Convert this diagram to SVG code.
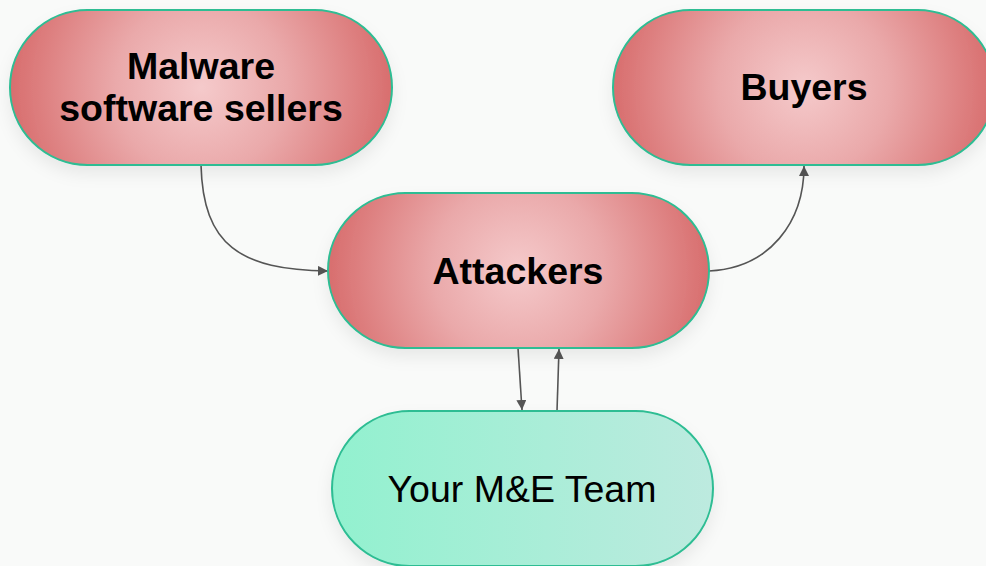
<svg xmlns="http://www.w3.org/2000/svg" width="986" height="566" viewBox="0 0 986 566">
<defs>
<radialGradient id="redG" cx="0.5" cy="0.5" r="0.5" gradientTransform="translate(0 0.5) scale(1 2.465) translate(0 -0.5)">
<stop offset="0" stop-color="#f5cacb"/>
<stop offset="0.45" stop-color="#eaa9aa"/>
<stop offset="1" stop-color="#d86e6e"/>
</radialGradient>
<linearGradient id="greenG" x1="0" y1="0" x2="1" y2="0">
<stop offset="0" stop-color="#92f1cf"/>
<stop offset="1" stop-color="#bdeadf"/>
</linearGradient>
<filter id="shadow" x="-10%" y="-10%" width="120%" height="140%">
<feDropShadow dx="0" dy="8" stdDeviation="8" flood-color="#000" flood-opacity="0.07"/>
</filter>
<marker id="arr" viewBox="0 0 10 10" refX="10" refY="5" markerWidth="10" markerHeight="10" markerUnits="userSpaceOnUse" orient="auto">
<path d="M0,0 L10,5 L0,10 z" fill="#555"/>
</marker>
<style>
.node{stroke:#2dbd93;stroke-width:2;filter:url(#shadow)}
.red{fill:url(#redG)}
.green{fill:url(#greenG)}
.lbl{font-family:"Liberation Sans",Arial,sans-serif;font-size:37.5px;fill:#000;text-anchor:middle}
.b{font-weight:bold}
.edge{fill:none;stroke:#555;stroke-width:1.6;marker-end:url(#arr)}
</style>
</defs>
<rect width="986" height="566" fill="#f9faf9"/>
<g id="connectors">
<path class="edge" d="M201,165 C203,245 240,270 328,271"/>
<path class="edge" d="M709,271 C770,268 804,222 804,166"/>
<path class="edge" d="M518,348 L522,410"/>
<path class="edge" d="M557,411 L559,349"/>
</g>
<g id="node-malware">
<rect class="node red" x="10" y="10" width="382" height="155" rx="77.5"/>
<text class="lbl b" x="201" y="79">Malware</text>
<text class="lbl b" x="201" y="121">software sellers</text>
</g>
<g id="node-buyers">
<rect class="node red" x="613" y="10" width="382" height="155" rx="77.5"/>
<text class="lbl b" x="804" y="100">Buyers</text>
</g>
<g id="node-attackers">
<rect class="node red" x="328" y="193" width="381" height="155" rx="77.5"/>
<text class="lbl b" x="518" y="284">Attackers</text>
</g>
<g id="node-team">
<rect class="node green" x="332" y="411" width="381" height="155" rx="77.5"/>
<text class="lbl" x="522" y="502">Your M&amp;E Team</text>
</g>
</svg>
